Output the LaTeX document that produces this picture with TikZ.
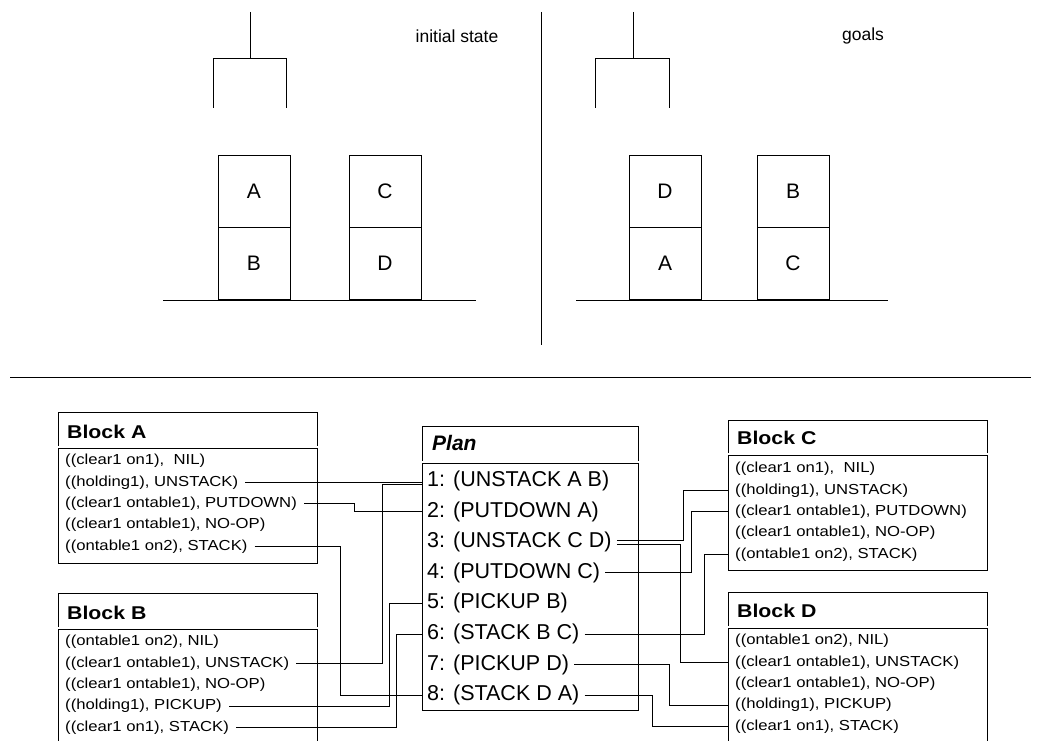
\documentclass[tikz,border=0pt]{standalone}
\usepackage{fontspec}
\setmainfont{Liberation Sans}
\newfontfamily\blockfont[FakeStretch=1.15]{Liberation Sans}
\usetikzlibrary{positioning}

\begin{document}
\begin{tikzpicture}[
    x=1pt, y=-1pt,
    node distance=0pt,
    cube/.style={draw, line width=0.9pt, outer sep=0pt, minimum width=72pt, minimum height=72pt, font=\fontsize{21}{24}\selectfont},
    heading/.style={font=\fontsize{17.5}{20}\selectfont},
    box/.style={draw, line width=1pt, anchor=north west, minimum width=259pt, inner sep=0pt},
    divider/.style={double, double distance=1.4pt, line width=0.8pt},
    blocktitle/.style={anchor=west, inner sep=0pt, font=\blockfont\bfseries\fontsize{18.5}{21}\selectfont},
    row/.style={inner xsep=7pt, inner ysep=0pt, minimum height=21pt, font=\blockfont\fontsize{14.5}{17}\selectfont},
    prow/.style={inner xsep=5pt, inner ysep=0pt, minimum height=30.2pt, font=\fontsize{21.5}{24}\selectfont},
    wire/.style={line width=0.9pt},
]
    \useasboundingbox (0,0) rectangle (1041,741);
    \clip (0,0) rectangle (1041,741);

    \node [heading] (initial) at (457,36) {initial state};
    \node [heading] (goals) at (863,36) {goals};

    \node [cube] (iniB) at (254,263) {B};
    \node [cube, above=of iniB] (iniA) {A};
    \node [cube] (iniD) at (385,263) {D};
    \node [cube, above=of iniD] (iniC) {C};

    \node [cube] (goalA) at (665,263) {A};
    \node [cube, above=of goalA] (goalD) {D};
    \node [cube] (goalC) at (793,263) {C};
    \node [cube, above=of goalC] (goalB) {B};

    \draw [wire] (163,300) -- (476,300);
    \draw [wire] (576,300) -- (888,300);
    \draw [wire] (250,12) -- (250,58);
    \draw [wire] (213,108) -- (213,58) -- (286,58) -- (286,108);
    \draw [wire] (633,12) -- (633,58);
    \draw [wire] (595,108) -- (595,58) -- (669,58) -- (669,108);
    \draw [wire] (541,12) -- (541,345);
    \draw [wire] (10,377) -- (1031,377);

    \node [box, minimum height=151pt] (blockA) at (58,412) {};
    \node [blocktitle] (titleA) at ([xshift=9pt, yshift=-20pt]blockA.north west) {Block A};
    \draw [divider] ([yshift=-35pt]blockA.north west) -- ([yshift=-35pt]blockA.north east);
    \node [row, anchor=west] (a1) at ([yshift=-49pt]blockA.north west) {((clear1 on1),\ \ NIL)};
    \node [row, below=of a1.south west, anchor=north west] (a2) {((holding1), UNSTACK)};
    \node [row, below=of a2.south west, anchor=north west] (a3) {((clear1 ontable1), PUTDOWN)};
    \node [row, below=of a3.south west, anchor=north west] (a4) {((clear1 ontable1), NO-OP)};
    \node [row, below=of a4.south west, anchor=north west] (a5) {((ontable1 on2), STACK)};

    \node [box, minimum height=170pt] (blockB) at (58,593) {};
    \node [blocktitle] (titleB) at ([xshift=9pt, yshift=-20pt]blockB.north west) {Block B};
    \draw [divider] ([yshift=-35pt]blockB.north west) -- ([yshift=-35pt]blockB.north east);
    \node [row, anchor=west] (b1) at ([yshift=-49pt]blockB.north west) {((ontable1 on2), NIL)};
    \node [row, below=of b1.south west, anchor=north west] (b2) {((clear1 ontable1), UNSTACK)};
    \node [row, below=of b2.south west, anchor=north west] (b3) {((clear1 ontable1), NO-OP)};
    \node [row, below=of b3.south west, anchor=north west] (b4) {((holding1), PICKUP)};
    \node [row, below=of b4.south west, anchor=north west] (b5) {((clear1 on1), STACK)};

    \node [box, minimum width=216pt, minimum height=284pt] (plan) at (422,426) {};
    \node [blocktitle, font=\bfseries\itshape\fontsize{21}{24}\selectfont] (plantitle) at ([xshift=10pt, yshift=-17pt]plan.north west) {Plan};
    \draw [divider] ([yshift=-36pt]plan.north west) -- ([yshift=-36pt]plan.north east);
    \node [prow, anchor=west] (p1) at ([yshift=-55pt]plan.north west) {1: (UNSTACK A B)};
    \node [prow, below=of p1.south west, anchor=north west] (p2) {2: (PUTDOWN A)};
    \node [prow, below=of p2.south west, anchor=north west] (p3) {3: (UNSTACK C D)};
    \node [prow, below=of p3.south west, anchor=north west] (p4) {4: (PUTDOWN C)};
    \node [prow, below=of p4.south west, anchor=north west] (p5) {5: (PICKUP B)};
    \node [prow, below=of p5.south west, anchor=north west] (p6) {6: (STACK B C)};
    \node [prow, below=of p6.south west, anchor=north west] (p7) {7: (PICKUP D)};
    \node [prow, below=of p7.south west, anchor=north west] (p8) {8: (STACK D A)};

    \node [box, minimum height=150pt] (blockC) at (728,420) {};
    \node [blocktitle] (titleC) at ([xshift=9pt, yshift=-18pt]blockC.north west) {Block C};
    \draw [divider] ([yshift=-34pt]blockC.north west) -- ([yshift=-34pt]blockC.north east);
    \node [row, anchor=west] (c1) at ([yshift=-49pt]blockC.north west) {((clear1 on1),\ \ NIL)};
    \node [row, below=of c1.south west, anchor=north west] (c2) {((holding1), UNSTACK)};
    \node [row, below=of c2.south west, anchor=north west] (c3) {((clear1 ontable1), PUTDOWN)};
    \node [row, below=of c3.south west, anchor=north west] (c4) {((clear1 ontable1), NO-OP)};
    \node [row, below=of c4.south west, anchor=north west] (c5) {((ontable1 on2), STACK)};

    \node [box, minimum height=170pt] (blockD) at (728,592) {};
    \node [blocktitle] (titleD) at ([xshift=9pt, yshift=-19pt]blockD.north west) {Block D};
    \draw [divider] ([yshift=-35pt]blockD.north west) -- ([yshift=-35pt]blockD.north east);
    \node [row, anchor=west] (d1) at ([yshift=-49pt]blockD.north west) {((ontable1 on2), NIL)};
    \node [row, below=of d1.south west, anchor=north west] (d2) {((clear1 ontable1), UNSTACK)};
    \node [row, below=of d2.south west, anchor=north west] (d3) {((clear1 ontable1), NO-OP)};
    \node [row, below=of d3.south west, anchor=north west] (d4) {((holding1), PICKUP)};
    \node [row, below=of d4.south west, anchor=north west] (d5) {((clear1 on1), STACK)};

    \draw [wire] (a2.east) -- (a2.east -| p1.west);
    \draw [wire] (b2.east) -| ([xshift=-40pt, yshift=-3pt]p1.west) -- ([yshift=-3pt]p1.west);
    \draw [wire] (a3.east) -| ([xshift=-68pt]p2.west) -- (p2.west);
    \draw [wire] (a5.east) -| ([xshift=-82pt]p8.west) -- (p8.west);
    \draw [wire] (b4.east) -| ([xshift=-33pt]p5.west) -- (p5.west);
    \draw [wire] (b5.east) -| ([xshift=-26pt]p6.west) -- (p6.west);

    \draw [wire] ([yshift=1.5pt]p3.east) -| ([xshift=-45pt]c2.west) -- (c2.west);
    \draw [wire] ([yshift=-2pt]p3.east) -| ([xshift=-48pt]d2.west) -- (d2.west);
    \draw [wire] (p4.east) -| ([xshift=-37pt]c3.west) -- (c3.west);
    \draw [wire] (p6.east) -| ([xshift=-24pt]c5.west) -- (c5.west);
    \draw [wire] (p7.east) -| ([xshift=-59pt]d4.west) -- (d4.west);
    \draw [wire] (p8.east) -| ([xshift=-76pt]d5.west) -- (d5.west);

\end{tikzpicture}
\end{document}
